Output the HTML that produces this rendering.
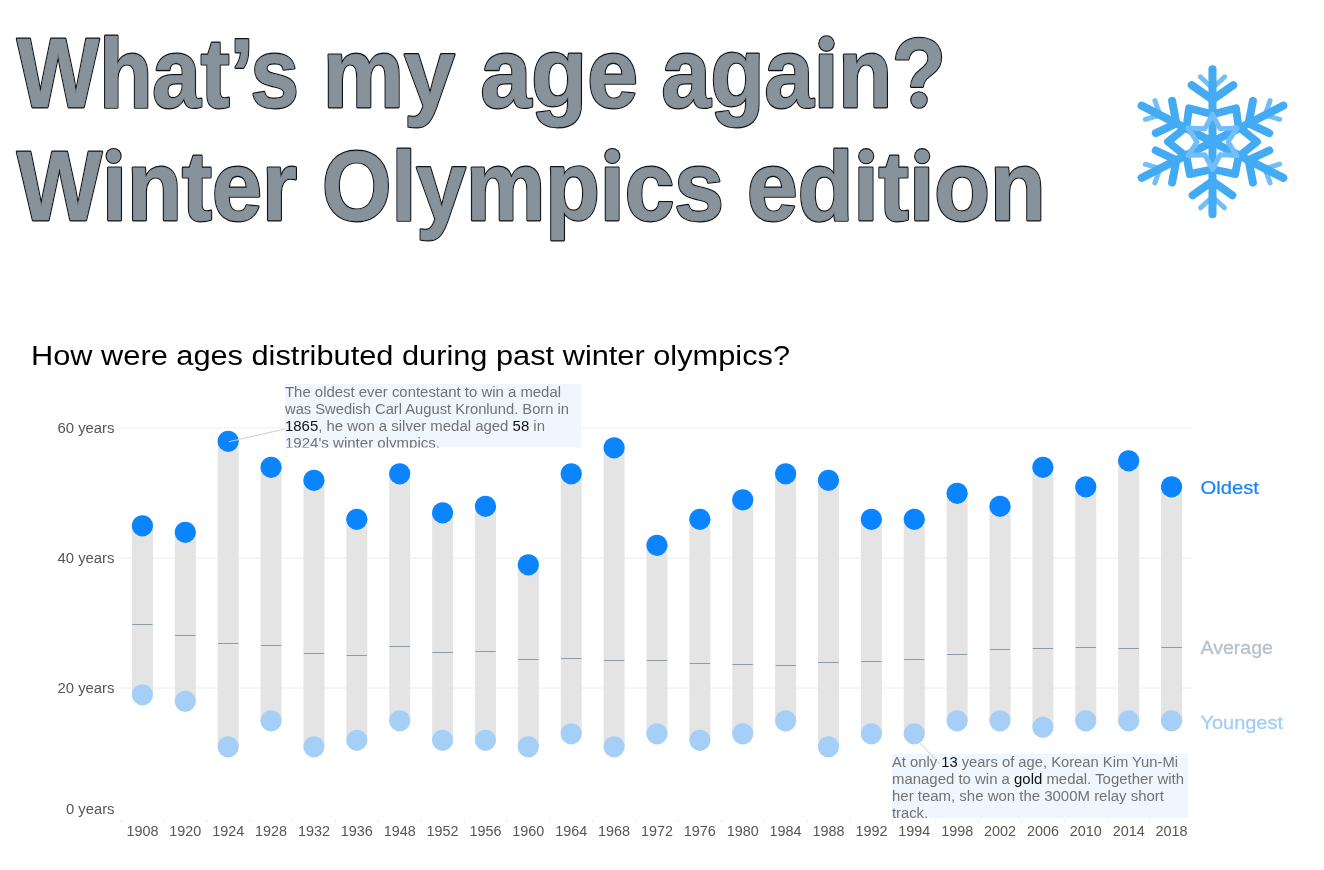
<!DOCTYPE html>
<html><head><meta charset="utf-8"><style>
html,body{margin:0;padding:0;background:#fff;}
body{width:1324px;height:870px;position:relative;overflow:hidden;}
.t{position:absolute;left:0;top:0;will-change:transform;}
</style></head><body>
<svg class="t" width="1324" height="870" viewBox="0 0 1324 870">
<g style='font-family:"Liberation Sans",sans-serif;font-weight:bold;' font-size="98.5" stroke-linejoin="round">
<g fill="#0e1114" stroke="#0e1114" stroke-width="2.9">
<text x="17.00" y="106.6" textLength="282.00" lengthAdjust="spacingAndGlyphs">What’s</text>
<text x="322.87" y="106.6" textLength="132.10" lengthAdjust="spacingAndGlyphs">my</text>
<text x="480.47" y="106.6" textLength="157.55" lengthAdjust="spacingAndGlyphs">age</text>
<text x="661.48" y="106.6" textLength="284.59" lengthAdjust="spacingAndGlyphs">agaın?</text>
<text x="17.00" y="220.1" textLength="280.00" lengthAdjust="spacingAndGlyphs">Wınter</text>
<text x="321.98" y="220.1" textLength="402.04" lengthAdjust="spacingAndGlyphs">Olympıcs</text>
<text x="746.97" y="220.1" textLength="298.62" lengthAdjust="spacingAndGlyphs">edıtıon</text>
</g>
<g fill="#87929b" stroke="#87929b" stroke-width="0.7">
<text x="17.00" y="106.6" textLength="282.00" lengthAdjust="spacingAndGlyphs">What’s</text>
<text x="322.87" y="106.6" textLength="132.10" lengthAdjust="spacingAndGlyphs">my</text>
<text x="480.47" y="106.6" textLength="157.55" lengthAdjust="spacingAndGlyphs">age</text>
<text x="661.48" y="106.6" textLength="284.59" lengthAdjust="spacingAndGlyphs">agaın?</text>
<text x="17.00" y="220.1" textLength="280.00" lengthAdjust="spacingAndGlyphs">Wınter</text>
<text x="321.98" y="220.1" textLength="402.04" lengthAdjust="spacingAndGlyphs">Olympıcs</text>
<text x="746.97" y="220.1" textLength="298.62" lengthAdjust="spacingAndGlyphs">edıtıon</text>
</g>
<rect x="906" y="89.5" width="22" height="21" fill="#fff"/>
<circle cx="826.5" cy="43.6" r="8.3" fill="#0e1114"/><circle cx="826.5" cy="43.6" r="7.250000000000001" fill="#87929b"/>
<circle cx="113.6" cy="156.0" r="8.1" fill="#0e1114"/><circle cx="113.6" cy="156.0" r="7.05" fill="#87929b"/>
<circle cx="612.3" cy="156.0" r="8.1" fill="#0e1114"/><circle cx="612.3" cy="156.0" r="7.05" fill="#87929b"/>
<circle cx="866.2" cy="156.2" r="8.1" fill="#0e1114"/><circle cx="866.2" cy="156.2" r="7.05" fill="#87929b"/>
<circle cx="922.2" cy="156.2" r="8.1" fill="#0e1114"/><circle cx="922.2" cy="156.2" r="7.05" fill="#87929b"/>
<circle cx="919" cy="100.0" r="8.8" fill="#0e1114"/><circle cx="919" cy="100.0" r="7.750000000000001" fill="#87929b"/>
</g>
<g stroke-linecap="round" stroke-linejoin="round" fill="none">
<path d="M1200.30,76.80 L1212.50,88.30 L1224.70,76.80" stroke="#72bef8" stroke-width="5"/>
<path d="M1224.50,207.80 L1212.50,196.80 L1200.50,207.80" stroke="#72bef8" stroke-width="5"/>
<path d="M1270.10,100.67 L1265.07,115.01 L1279.64,119.38" stroke="#72bef8" stroke-width="5"/>
<path d="M1145.36,119.38 L1159.93,115.01 L1154.90,100.67" stroke="#72bef8" stroke-width="5"/>
<path d="M1154.90,182.93 L1159.93,168.59 L1145.36,164.22" stroke="#72bef8" stroke-width="5"/>
<path d="M1279.64,164.22 L1265.07,168.59 L1270.10,182.93" stroke="#72bef8" stroke-width="5"/>
<path d="M1212.50,141.80 L1212.50,69.30" stroke="#43abf4" stroke-width="8.1"/>
<path d="M1191.70,85.10 L1212.50,99.60 L1233.30,85.10" stroke="#43abf4" stroke-width="8"/>
<path d="M1212.50,141.80 L1212.50,214.30" stroke="#43abf4" stroke-width="8.1"/>
<path d="M1232.30,195.30 L1212.50,181.30 L1192.70,195.30" stroke="#43abf4" stroke-width="8"/>
<path d="M1212.50,141.80 L1283.34,105.71" stroke="#43abf4" stroke-width="8.1"/>
<path d="M1252.89,101.02 L1248.59,123.41 L1269.23,133.10" stroke="#43abf4" stroke-width="8"/>
<path d="M1212.50,141.80 L1141.66,105.71" stroke="#43abf4" stroke-width="8.1"/>
<path d="M1155.77,133.10 L1176.41,123.41 L1172.11,101.02" stroke="#43abf4" stroke-width="8"/>
<path d="M1212.50,141.80 L1141.66,177.89" stroke="#43abf4" stroke-width="8.1"/>
<path d="M1172.11,182.58 L1176.41,160.19 L1155.77,150.50" stroke="#43abf4" stroke-width="8"/>
<path d="M1212.50,141.80 L1283.34,177.89" stroke="#43abf4" stroke-width="8.1"/>
<path d="M1269.23,150.50 L1248.59,160.19 L1252.89,182.58" stroke="#43abf4" stroke-width="8"/>
<path d="M1257.00,141.80 L1238.48,126.80 L1236.02,108.21 L1212.50,114.30 L1188.98,108.21 L1186.52,126.80 L1168.00,141.80 L1186.52,156.80 L1189.84,174.16 L1212.50,169.30 L1235.16,174.16 L1238.48,156.80 Z" stroke="#43abf4" stroke-width="7.8"/>
<path d="M1212.50,114.30 L1204.78,128.81 L1187.97,128.05 L1197.05,141.80 L1187.97,155.55 L1204.78,154.79 L1212.50,169.30 L1220.22,154.79 L1237.03,155.55 L1227.95,141.80 L1237.03,128.05 L1220.22,128.81 Z" stroke="#72bef8" stroke-width="5"/>
<path d="M1212.50,121.30 L1209.00,135.74 L1194.75,131.55 L1205.50,141.80 L1194.75,152.05 L1209.00,147.86 L1212.50,162.30 L1216.00,147.86 L1230.25,152.05 L1219.50,141.80 L1230.25,131.55 L1216.00,135.74 Z" fill="#43abf4" stroke="none"/>
</g>
<line x1="121" x2="1193" y1="688.0" y2="688.0" stroke="#eeeeee" stroke-width="1"/>
<line x1="117" x2="121" y1="688.0" y2="688.0" stroke="#f4f4f4" stroke-width="1"/>
<line x1="121" x2="1193" y1="558.0" y2="558.0" stroke="#eeeeee" stroke-width="1"/>
<line x1="117" x2="121" y1="558.0" y2="558.0" stroke="#f4f4f4" stroke-width="1"/>
<line x1="121" x2="1193" y1="428.0" y2="428.0" stroke="#eeeeee" stroke-width="1"/>
<line x1="117" x2="121" y1="428.0" y2="428.0" stroke="#f4f4f4" stroke-width="1"/>
<line x1="121.0" x2="121.0" y1="819" y2="823" stroke="#eeeeee" stroke-width="1"/>
<line x1="163.9" x2="163.9" y1="819" y2="823" stroke="#eeeeee" stroke-width="1"/>
<line x1="206.8" x2="206.8" y1="819" y2="823" stroke="#eeeeee" stroke-width="1"/>
<line x1="249.6" x2="249.6" y1="819" y2="823" stroke="#eeeeee" stroke-width="1"/>
<line x1="292.5" x2="292.5" y1="819" y2="823" stroke="#eeeeee" stroke-width="1"/>
<line x1="335.4" x2="335.4" y1="819" y2="823" stroke="#eeeeee" stroke-width="1"/>
<line x1="378.3" x2="378.3" y1="819" y2="823" stroke="#eeeeee" stroke-width="1"/>
<line x1="421.2" x2="421.2" y1="819" y2="823" stroke="#eeeeee" stroke-width="1"/>
<line x1="464.0" x2="464.0" y1="819" y2="823" stroke="#eeeeee" stroke-width="1"/>
<line x1="506.9" x2="506.9" y1="819" y2="823" stroke="#eeeeee" stroke-width="1"/>
<line x1="549.8" x2="549.8" y1="819" y2="823" stroke="#eeeeee" stroke-width="1"/>
<line x1="592.7" x2="592.7" y1="819" y2="823" stroke="#eeeeee" stroke-width="1"/>
<line x1="635.6" x2="635.6" y1="819" y2="823" stroke="#eeeeee" stroke-width="1"/>
<line x1="678.4" x2="678.4" y1="819" y2="823" stroke="#eeeeee" stroke-width="1"/>
<line x1="721.3" x2="721.3" y1="819" y2="823" stroke="#eeeeee" stroke-width="1"/>
<line x1="764.2" x2="764.2" y1="819" y2="823" stroke="#eeeeee" stroke-width="1"/>
<line x1="807.1" x2="807.1" y1="819" y2="823" stroke="#eeeeee" stroke-width="1"/>
<line x1="850.0" x2="850.0" y1="819" y2="823" stroke="#eeeeee" stroke-width="1"/>
<line x1="892.8" x2="892.8" y1="819" y2="823" stroke="#eeeeee" stroke-width="1"/>
<line x1="935.7" x2="935.7" y1="819" y2="823" stroke="#eeeeee" stroke-width="1"/>
<line x1="978.6" x2="978.6" y1="819" y2="823" stroke="#eeeeee" stroke-width="1"/>
<line x1="1021.5" x2="1021.5" y1="819" y2="823" stroke="#eeeeee" stroke-width="1"/>
<line x1="1064.4" x2="1064.4" y1="819" y2="823" stroke="#eeeeee" stroke-width="1"/>
<line x1="1107.2" x2="1107.2" y1="819" y2="823" stroke="#eeeeee" stroke-width="1"/>
<line x1="1150.1" x2="1150.1" y1="819" y2="823" stroke="#eeeeee" stroke-width="1"/>
<rect x="131.94" y="525.50" width="21" height="169.00" fill="#e4e4e4"/>
<rect x="174.82" y="532.00" width="21" height="169.00" fill="#e4e4e4"/>
<rect x="217.70" y="441.00" width="21" height="305.50" fill="#e4e4e4"/>
<rect x="260.58" y="467.00" width="21" height="253.50" fill="#e4e4e4"/>
<rect x="303.46" y="480.00" width="21" height="266.50" fill="#e4e4e4"/>
<rect x="346.34" y="519.00" width="21" height="221.00" fill="#e4e4e4"/>
<rect x="389.22" y="473.50" width="21" height="247.00" fill="#e4e4e4"/>
<rect x="432.10" y="512.50" width="21" height="227.50" fill="#e4e4e4"/>
<rect x="474.98" y="506.00" width="21" height="234.00" fill="#e4e4e4"/>
<rect x="517.86" y="564.50" width="21" height="182.00" fill="#e4e4e4"/>
<rect x="560.74" y="473.50" width="21" height="260.00" fill="#e4e4e4"/>
<rect x="603.62" y="447.50" width="21" height="299.00" fill="#e4e4e4"/>
<rect x="646.50" y="545.00" width="21" height="188.50" fill="#e4e4e4"/>
<rect x="689.38" y="519.00" width="21" height="221.00" fill="#e4e4e4"/>
<rect x="732.26" y="499.50" width="21" height="234.00" fill="#e4e4e4"/>
<rect x="775.14" y="473.50" width="21" height="247.00" fill="#e4e4e4"/>
<rect x="818.02" y="480.00" width="21" height="266.50" fill="#e4e4e4"/>
<rect x="860.90" y="519.00" width="21" height="214.50" fill="#e4e4e4"/>
<rect x="903.78" y="519.00" width="21" height="214.50" fill="#e4e4e4"/>
<rect x="946.66" y="493.00" width="21" height="227.50" fill="#e4e4e4"/>
<rect x="989.54" y="506.00" width="21" height="214.50" fill="#e4e4e4"/>
<rect x="1032.42" y="467.00" width="21" height="260.00" fill="#e4e4e4"/>
<rect x="1075.30" y="486.50" width="21" height="234.00" fill="#e4e4e4"/>
<rect x="1118.18" y="460.50" width="21" height="260.00" fill="#e4e4e4"/>
<rect x="1161.06" y="486.50" width="21" height="234.00" fill="#e4e4e4"/>
<line x1="132.24" x2="152.64" y1="624.5" y2="624.5" stroke="#8e9aa4" stroke-width="1"/>
<line x1="175.12" x2="195.52" y1="635.5" y2="635.5" stroke="#8e9aa4" stroke-width="1"/>
<line x1="218.00" x2="238.40" y1="643.5" y2="643.5" stroke="#8e9aa4" stroke-width="1"/>
<line x1="260.88" x2="281.28" y1="645.5" y2="645.5" stroke="#8e9aa4" stroke-width="1"/>
<line x1="303.76" x2="324.16" y1="653.5" y2="653.5" stroke="#8e9aa4" stroke-width="1"/>
<line x1="346.64" x2="367.04" y1="655.5" y2="655.5" stroke="#8e9aa4" stroke-width="1"/>
<line x1="389.52" x2="409.92" y1="646.5" y2="646.5" stroke="#8e9aa4" stroke-width="1"/>
<line x1="432.40" x2="452.80" y1="652.5" y2="652.5" stroke="#8e9aa4" stroke-width="1"/>
<line x1="475.28" x2="495.68" y1="651.5" y2="651.5" stroke="#8e9aa4" stroke-width="1"/>
<line x1="518.16" x2="538.56" y1="659.5" y2="659.5" stroke="#8e9aa4" stroke-width="1"/>
<line x1="561.04" x2="581.44" y1="658.5" y2="658.5" stroke="#8e9aa4" stroke-width="1"/>
<line x1="603.92" x2="624.32" y1="660.5" y2="660.5" stroke="#8e9aa4" stroke-width="1"/>
<line x1="646.80" x2="667.20" y1="660.5" y2="660.5" stroke="#8e9aa4" stroke-width="1"/>
<line x1="689.68" x2="710.08" y1="663.5" y2="663.5" stroke="#8e9aa4" stroke-width="1"/>
<line x1="732.56" x2="752.96" y1="664.5" y2="664.5" stroke="#8e9aa4" stroke-width="1"/>
<line x1="775.44" x2="795.84" y1="665.5" y2="665.5" stroke="#8e9aa4" stroke-width="1"/>
<line x1="818.32" x2="838.72" y1="662.5" y2="662.5" stroke="#8e9aa4" stroke-width="1"/>
<line x1="861.20" x2="881.60" y1="661.5" y2="661.5" stroke="#8e9aa4" stroke-width="1"/>
<line x1="904.08" x2="924.48" y1="659.5" y2="659.5" stroke="#8e9aa4" stroke-width="1"/>
<line x1="946.96" x2="967.36" y1="654.5" y2="654.5" stroke="#8e9aa4" stroke-width="1"/>
<line x1="989.84" x2="1010.24" y1="649.5" y2="649.5" stroke="#8e9aa4" stroke-width="1"/>
<line x1="1032.72" x2="1053.12" y1="648.5" y2="648.5" stroke="#8e9aa4" stroke-width="1"/>
<line x1="1075.60" x2="1096.00" y1="647.5" y2="647.5" stroke="#8e9aa4" stroke-width="1"/>
<line x1="1118.48" x2="1138.88" y1="648.5" y2="648.5" stroke="#8e9aa4" stroke-width="1"/>
<line x1="1161.36" x2="1181.76" y1="647.5" y2="647.5" stroke="#8e9aa4" stroke-width="1"/>
<circle cx="142.44" cy="525.80" r="10.6" fill="#0b84ff"/>
<circle cx="142.44" cy="694.80" r="10.6" fill="#a6cff8"/>
<circle cx="185.32" cy="532.30" r="10.6" fill="#0b84ff"/>
<circle cx="185.32" cy="701.30" r="10.6" fill="#a6cff8"/>
<circle cx="228.20" cy="441.30" r="10.6" fill="#0b84ff"/>
<circle cx="228.20" cy="746.80" r="10.6" fill="#a6cff8"/>
<circle cx="271.08" cy="467.30" r="10.6" fill="#0b84ff"/>
<circle cx="271.08" cy="720.80" r="10.6" fill="#a6cff8"/>
<circle cx="313.96" cy="480.30" r="10.6" fill="#0b84ff"/>
<circle cx="313.96" cy="746.80" r="10.6" fill="#a6cff8"/>
<circle cx="356.84" cy="519.30" r="10.6" fill="#0b84ff"/>
<circle cx="356.84" cy="740.30" r="10.6" fill="#a6cff8"/>
<circle cx="399.72" cy="473.80" r="10.6" fill="#0b84ff"/>
<circle cx="399.72" cy="720.80" r="10.6" fill="#a6cff8"/>
<circle cx="442.60" cy="512.80" r="10.6" fill="#0b84ff"/>
<circle cx="442.60" cy="740.30" r="10.6" fill="#a6cff8"/>
<circle cx="485.48" cy="506.30" r="10.6" fill="#0b84ff"/>
<circle cx="485.48" cy="740.30" r="10.6" fill="#a6cff8"/>
<circle cx="528.36" cy="564.80" r="10.6" fill="#0b84ff"/>
<circle cx="528.36" cy="746.80" r="10.6" fill="#a6cff8"/>
<circle cx="571.24" cy="473.80" r="10.6" fill="#0b84ff"/>
<circle cx="571.24" cy="733.80" r="10.6" fill="#a6cff8"/>
<circle cx="614.12" cy="447.80" r="10.6" fill="#0b84ff"/>
<circle cx="614.12" cy="746.80" r="10.6" fill="#a6cff8"/>
<circle cx="657.00" cy="545.30" r="10.6" fill="#0b84ff"/>
<circle cx="657.00" cy="733.80" r="10.6" fill="#a6cff8"/>
<circle cx="699.88" cy="519.30" r="10.6" fill="#0b84ff"/>
<circle cx="699.88" cy="740.30" r="10.6" fill="#a6cff8"/>
<circle cx="742.76" cy="499.80" r="10.6" fill="#0b84ff"/>
<circle cx="742.76" cy="733.80" r="10.6" fill="#a6cff8"/>
<circle cx="785.64" cy="473.80" r="10.6" fill="#0b84ff"/>
<circle cx="785.64" cy="720.80" r="10.6" fill="#a6cff8"/>
<circle cx="828.52" cy="480.30" r="10.6" fill="#0b84ff"/>
<circle cx="828.52" cy="746.80" r="10.6" fill="#a6cff8"/>
<circle cx="871.40" cy="519.30" r="10.6" fill="#0b84ff"/>
<circle cx="871.40" cy="733.80" r="10.6" fill="#a6cff8"/>
<circle cx="914.28" cy="519.30" r="10.6" fill="#0b84ff"/>
<circle cx="914.28" cy="733.80" r="10.6" fill="#a6cff8"/>
<circle cx="957.16" cy="493.30" r="10.6" fill="#0b84ff"/>
<circle cx="957.16" cy="720.80" r="10.6" fill="#a6cff8"/>
<circle cx="1000.04" cy="506.30" r="10.6" fill="#0b84ff"/>
<circle cx="1000.04" cy="720.80" r="10.6" fill="#a6cff8"/>
<circle cx="1042.92" cy="467.30" r="10.6" fill="#0b84ff"/>
<circle cx="1042.92" cy="727.30" r="10.6" fill="#a6cff8"/>
<circle cx="1085.80" cy="486.80" r="10.6" fill="#0b84ff"/>
<circle cx="1085.80" cy="720.80" r="10.6" fill="#a6cff8"/>
<circle cx="1128.68" cy="460.80" r="10.6" fill="#0b84ff"/>
<circle cx="1128.68" cy="720.80" r="10.6" fill="#a6cff8"/>
<circle cx="1171.56" cy="486.80" r="10.6" fill="#0b84ff"/>
<circle cx="1171.56" cy="720.80" r="10.6" fill="#a6cff8"/>
<text x="114.5" y="433.3" text-anchor="end" textLength="57" lengthAdjust="spacingAndGlyphs" style="font-family:'Liberation Sans',sans-serif;font-size:14px" fill="#555555">60 years</text>
<text x="114.5" y="563.2" text-anchor="end" textLength="57" lengthAdjust="spacingAndGlyphs" style="font-family:'Liberation Sans',sans-serif;font-size:14px" fill="#555555">40 years</text>
<text x="114.5" y="693.2" text-anchor="end" textLength="57" lengthAdjust="spacingAndGlyphs" style="font-family:'Liberation Sans',sans-serif;font-size:14px" fill="#555555">20 years</text>
<text x="114.5" y="814" text-anchor="end" textLength="48.5" lengthAdjust="spacingAndGlyphs" style="font-family:'Liberation Sans',sans-serif;font-size:14px" fill="#555555">0 years</text>
<text x="142.44" y="835.8" text-anchor="middle" textLength="32" lengthAdjust="spacingAndGlyphs" style="font-family:'Liberation Sans',sans-serif;font-size:14px" fill="#555555">1908</text>
<text x="185.32" y="835.8" text-anchor="middle" textLength="32" lengthAdjust="spacingAndGlyphs" style="font-family:'Liberation Sans',sans-serif;font-size:14px" fill="#555555">1920</text>
<text x="228.20" y="835.8" text-anchor="middle" textLength="32" lengthAdjust="spacingAndGlyphs" style="font-family:'Liberation Sans',sans-serif;font-size:14px" fill="#555555">1924</text>
<text x="271.08" y="835.8" text-anchor="middle" textLength="32" lengthAdjust="spacingAndGlyphs" style="font-family:'Liberation Sans',sans-serif;font-size:14px" fill="#555555">1928</text>
<text x="313.96" y="835.8" text-anchor="middle" textLength="32" lengthAdjust="spacingAndGlyphs" style="font-family:'Liberation Sans',sans-serif;font-size:14px" fill="#555555">1932</text>
<text x="356.84" y="835.8" text-anchor="middle" textLength="32" lengthAdjust="spacingAndGlyphs" style="font-family:'Liberation Sans',sans-serif;font-size:14px" fill="#555555">1936</text>
<text x="399.72" y="835.8" text-anchor="middle" textLength="32" lengthAdjust="spacingAndGlyphs" style="font-family:'Liberation Sans',sans-serif;font-size:14px" fill="#555555">1948</text>
<text x="442.60" y="835.8" text-anchor="middle" textLength="32" lengthAdjust="spacingAndGlyphs" style="font-family:'Liberation Sans',sans-serif;font-size:14px" fill="#555555">1952</text>
<text x="485.48" y="835.8" text-anchor="middle" textLength="32" lengthAdjust="spacingAndGlyphs" style="font-family:'Liberation Sans',sans-serif;font-size:14px" fill="#555555">1956</text>
<text x="528.36" y="835.8" text-anchor="middle" textLength="32" lengthAdjust="spacingAndGlyphs" style="font-family:'Liberation Sans',sans-serif;font-size:14px" fill="#555555">1960</text>
<text x="571.24" y="835.8" text-anchor="middle" textLength="32" lengthAdjust="spacingAndGlyphs" style="font-family:'Liberation Sans',sans-serif;font-size:14px" fill="#555555">1964</text>
<text x="614.12" y="835.8" text-anchor="middle" textLength="32" lengthAdjust="spacingAndGlyphs" style="font-family:'Liberation Sans',sans-serif;font-size:14px" fill="#555555">1968</text>
<text x="657.00" y="835.8" text-anchor="middle" textLength="32" lengthAdjust="spacingAndGlyphs" style="font-family:'Liberation Sans',sans-serif;font-size:14px" fill="#555555">1972</text>
<text x="699.88" y="835.8" text-anchor="middle" textLength="32" lengthAdjust="spacingAndGlyphs" style="font-family:'Liberation Sans',sans-serif;font-size:14px" fill="#555555">1976</text>
<text x="742.76" y="835.8" text-anchor="middle" textLength="32" lengthAdjust="spacingAndGlyphs" style="font-family:'Liberation Sans',sans-serif;font-size:14px" fill="#555555">1980</text>
<text x="785.64" y="835.8" text-anchor="middle" textLength="32" lengthAdjust="spacingAndGlyphs" style="font-family:'Liberation Sans',sans-serif;font-size:14px" fill="#555555">1984</text>
<text x="828.52" y="835.8" text-anchor="middle" textLength="32" lengthAdjust="spacingAndGlyphs" style="font-family:'Liberation Sans',sans-serif;font-size:14px" fill="#555555">1988</text>
<text x="871.40" y="835.8" text-anchor="middle" textLength="32" lengthAdjust="spacingAndGlyphs" style="font-family:'Liberation Sans',sans-serif;font-size:14px" fill="#555555">1992</text>
<text x="914.28" y="835.8" text-anchor="middle" textLength="32" lengthAdjust="spacingAndGlyphs" style="font-family:'Liberation Sans',sans-serif;font-size:14px" fill="#555555">1994</text>
<text x="957.16" y="835.8" text-anchor="middle" textLength="32" lengthAdjust="spacingAndGlyphs" style="font-family:'Liberation Sans',sans-serif;font-size:14px" fill="#555555">1998</text>
<text x="1000.04" y="835.8" text-anchor="middle" textLength="32" lengthAdjust="spacingAndGlyphs" style="font-family:'Liberation Sans',sans-serif;font-size:14px" fill="#555555">2002</text>
<text x="1042.92" y="835.8" text-anchor="middle" textLength="32" lengthAdjust="spacingAndGlyphs" style="font-family:'Liberation Sans',sans-serif;font-size:14px" fill="#555555">2006</text>
<text x="1085.80" y="835.8" text-anchor="middle" textLength="32" lengthAdjust="spacingAndGlyphs" style="font-family:'Liberation Sans',sans-serif;font-size:14px" fill="#555555">2010</text>
<text x="1128.68" y="835.8" text-anchor="middle" textLength="32" lengthAdjust="spacingAndGlyphs" style="font-family:'Liberation Sans',sans-serif;font-size:14px" fill="#555555">2014</text>
<text x="1171.56" y="835.8" text-anchor="middle" textLength="32" lengthAdjust="spacingAndGlyphs" style="font-family:'Liberation Sans',sans-serif;font-size:14px" fill="#555555">2018</text>
<line x1="229" y1="441.7" x2="285" y2="429" stroke="#cfcfcf" stroke-width="1"/>
<rect x="285" y="384" width="296" height="63.5" fill="#eff6fe"/>
<clipPath id="c1"><rect x="285" y="384" width="296" height="63.5"/></clipPath>
<g clip-path="url(#c1)">
<text x="285" y="397.2" textLength="276" lengthAdjust="spacingAndGlyphs" style="font-family:'Liberation Sans',sans-serif;font-size:14px" fill="#727272"><tspan>The oldest ever contestant to win a medal</tspan></text>
<text x="285" y="414.2" textLength="284" lengthAdjust="spacingAndGlyphs" style="font-family:'Liberation Sans',sans-serif;font-size:14px" fill="#727272"><tspan>was Swedish Carl August Kronlund. Born in</tspan></text>
<text x="285" y="431.2" textLength="260" lengthAdjust="spacingAndGlyphs" style="font-family:'Liberation Sans',sans-serif;font-size:14px" fill="#727272"><tspan fill="#111">1865</tspan><tspan>, he won a silver medal aged </tspan><tspan fill="#111">58</tspan><tspan> in</tspan></text>
<text x="285" y="448.2" textLength="155" lengthAdjust="spacingAndGlyphs" style="font-family:'Liberation Sans',sans-serif;font-size:14px" fill="#727272"><tspan>1924's winter olympics.</tspan></text>
</g>
<rect x="892" y="754" width="296" height="64" fill="#eff6fe"/>
<line x1="915" y1="738" x2="940" y2="764" stroke="#cfcfcf" stroke-width="1"/>
<text x="892" y="767.1" textLength="286" lengthAdjust="spacingAndGlyphs" style="font-family:'Liberation Sans',sans-serif;font-size:14px" fill="#727272"><tspan>At only </tspan><tspan fill="#111">13</tspan><tspan> years of age, Korean Kim Yun-Mi</tspan></text>
<text x="892" y="784.1" textLength="292" lengthAdjust="spacingAndGlyphs" style="font-family:'Liberation Sans',sans-serif;font-size:14px" fill="#727272"><tspan>managed to win a </tspan><tspan fill="#111">gold</tspan><tspan> medal. Together with</tspan></text>
<text x="892" y="801.1" textLength="272" lengthAdjust="spacingAndGlyphs" style="font-family:'Liberation Sans',sans-serif;font-size:14px" fill="#727272"><tspan>her team, she won the 3000M relay short</tspan></text>
<text x="892" y="818.1" textLength="36" lengthAdjust="spacingAndGlyphs" style="font-family:'Liberation Sans',sans-serif;font-size:14px" fill="#727272"><tspan>track.</tspan></text>
<text x="1200.5" y="494.1" textLength="58.5" lengthAdjust="spacingAndGlyphs" style="font-family:'Liberation Sans',sans-serif;font-size:19px" fill="#1482fa" stroke="#1482fa" stroke-width="0.2">Oldest</text>
<text x="1200.5" y="654" textLength="72.5" lengthAdjust="spacingAndGlyphs" style="font-family:'Liberation Sans',sans-serif;font-size:19px" fill="#b5c1cc" stroke="#b5c1cc" stroke-width="0.3">Average</text>
<text x="1200.5" y="728.6" textLength="82.5" lengthAdjust="spacingAndGlyphs" style="font-family:'Liberation Sans',sans-serif;font-size:19px" fill="#a3cdf8" stroke="#a3cdf8" stroke-width="0.3">Youngest</text>
<text x="31" y="364.9" textLength="759" lengthAdjust="spacingAndGlyphs" style="font-family:'Liberation Sans',sans-serif;font-size:27px" fill="#000">How were ages distributed during past winter olympics?</text>
</svg>
</body></html>
